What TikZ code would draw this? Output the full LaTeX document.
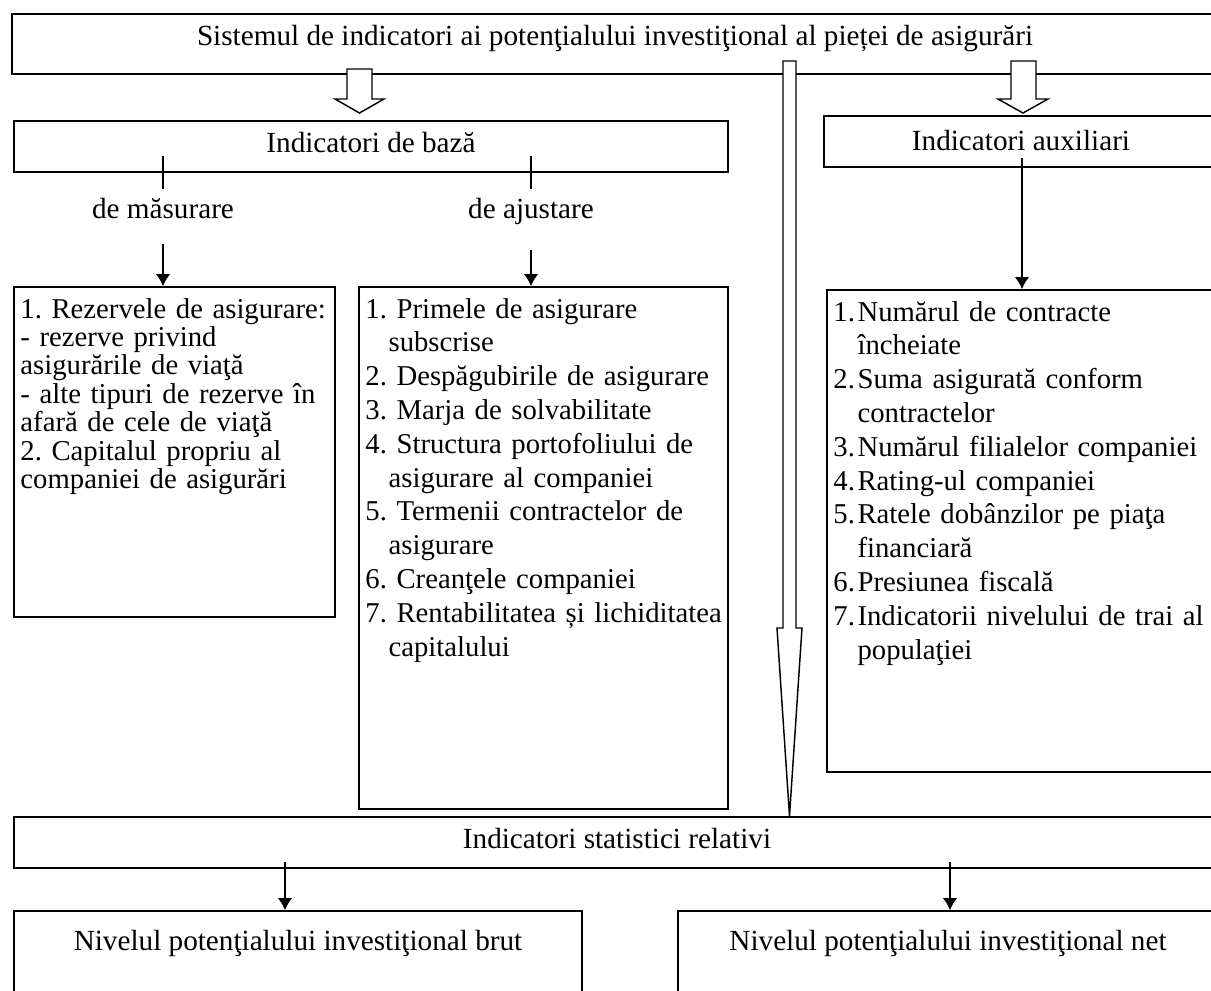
\documentclass[tikz,border=0pt]{standalone}
\usepackage{fontspec}
\setmainfont{Liberation Serif}
\usetikzlibrary{arrows.meta,fit}
\frenchspacing
\newcommand{\itemnr}[1]{\makebox[9.9pt][l]{#1}}
\newcommand{\contind}{\hspace*{9.9pt}}
\newcommand{\contB}{\hspace*{9.5pt}}

\begin{document}
\begin{tikzpicture}[x=0.411pt,y=-0.411pt,>={Latex[length=5pt,width=6pt]},
    cutie/.style={draw, line width=0.6pt, inner sep=0pt},
    titlu/.style={anchor=base, font=\fontsize{12pt}{14pt}\selectfont},
    eticheta/.style={anchor=base, inner xsep=0pt, inner ysep=3.3pt, font=\fontsize{12pt}{14pt}\selectfont},
    lista/.style={anchor=base west, align=left, inner sep=0pt},
    sageata/.style={->, line width=0.8pt},
    bloc/.style={draw, line width=0.6pt, fill=white}]
    \clip (0,0) rectangle (1211,990);

    % boxes
    \node[cutie, fit={(12,14) (1218,74)}] (sistem) {};
    \node[cutie, fit={(14,121) (728,172)}] (baza) {};
    \node[cutie, fit={(824,116) (1218,167)}] (aux) {};
    \node[cutie, fit={(14,287) (335,617)}] (boxA) {};
    \node[cutie, fit={(359,287) (728,809)}] (boxB) {};
    \node[cutie, fit={(827,290) (1218,772)}] (boxC) {};
    \node[cutie, fit={(14,817) (1218,868)}] (stat) {};
    \node[cutie, fit={(14,911) (582,1000)}] (brut) {};
    \node[cutie, fit={(678,911) (1218,1000)}] (net) {};

    % titles
    \node[titlu] (sistemtxt) at (615,45) {Sistemul de indicatori ai potenţialului investiţional al pieței de asigurări};
    \node[titlu] (bazatxt) at (371,152) {Indicatori de bază};
    \node[titlu] (auxtxt) at (1021,150) {Indicatori auxiliari};
    \node[titlu] (stattxt) at (617,848) {Indicatori statistici relativi};
    \node[titlu] (bruttxt) at (298,950) {Nivelul potenţialului investiţional brut};
    \node[titlu] (nettxt) at (948,950) {Nivelul potenţialului investiţional net};

    \node[eticheta] (masurare) at (163,218) {de măsurare};
    \node[eticheta] (ajustare) at (531,218) {de ajustare};

    % lists
    \node[lista, text width=130pt, font=\fontsize{11.8pt}{11.7pt}\selectfont] (listaA) at (20,318) {1. Rezervele de asigurare:\\
        - rezerve privind\\
        asigurările de viaţă\\
        - alte tipuri de rezerve în\\
        afară de cele de viaţă\\
        2. Capitalul propriu al\\
        companiei de asigurări};
    \node[lista, text width=152pt, font=\fontsize{11.8pt}{13.9pt}\selectfont] (listaB) at (365,318) {1. Primele de asigurare\\
        \contB subscrise\\
        2. Despăgubirile de asigurare\\
        3. Marja de solvabilitate\\
        4. Structura portofoliului de\\
        \contB asigurare al companiei\\
        5. Termenii contractelor de\\
        \contB asigurare\\
        6. Creanţele companiei\\
        7. Rentabilitatea și lichiditatea\\
        \contB capitalului};
    \node[lista, text width=160pt, font=\fontsize{11.8pt}{13.9pt}\selectfont] (listaC) at (833,321) {\itemnr{1.}Numărul de contracte\\
        \contind încheiate\\
        \itemnr{2.}Suma asigurată conform\\
        \contind contractelor\\
        \itemnr{3.}Numărul filialelor companiei\\
        \itemnr{4.}Rating-ul companiei\\
        \itemnr{5.}Ratele dobânzilor pe piaţa\\
        \contind financiară\\
        \itemnr{6.}Presiunea fiscală\\
        \itemnr{7.}Indicatorii nivelului de trai al\\
        \contind populaţiei};

    % connectors
    \draw[line width=0.8pt] ([yshift=7pt]baza.south -| masurare) -- (masurare.north);
    \draw[line width=0.8pt] ([yshift=7pt]baza.south -| ajustare) -- (ajustare.north);
    \draw[sageata] ([yshift=-7pt]masurare.south) -- (masurare |- boxA.north);
    \draw[sageata] ([yshift=-7pt]ajustare.south) -- (ajustare |- boxB.north);

    \coordinate (t3) at (1022,158);
    \draw[sageata] (t3) -- (t3 |- boxC.north);

    \coordinate (s1) at (285,862);
    \coordinate (s2) at (950,862);
    \draw[sageata] (s1) -- (s1 |- brut.north);
    \draw[sageata] (s2) -- (s2 |- net.north);

    % block arrows
    \coordinate (v1) at (359.5,113);
    \draw[bloc] (v1) -- ++(-24.5,-14) -- ++(12,0) -- ++(0,-30) -- ++(25,0) -- ++(0,30) -- ++(12,0) -- cycle;
    \coordinate (v2) at (1023,113);
    \draw[bloc] (v2) -- ++(-25,-14) -- ++(13,0) -- ++(0,-38) -- ++(25,0) -- ++(0,38) -- ++(12,0) -- cycle;
    \coordinate (v3) at (789.5,816);
    \draw[bloc] (v3) -- ++(-12.5,-188) -- ++(6,0) -- ++(0,-567) -- ++(13,0) -- ++(0,567) -- ++(6,0) -- cycle;
\end{tikzpicture}
\end{document}
